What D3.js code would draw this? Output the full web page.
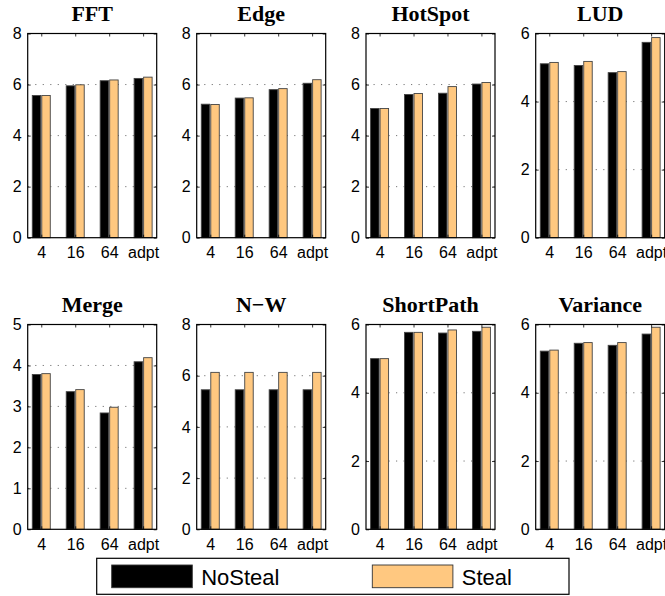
<!DOCTYPE html>
<html>
<head>
<meta charset="utf-8">
<script src="https://cdn.jsdelivr.net/npm/d3@7/dist/d3.min.js"></script>
<style>
  html, body { margin: 0; padding: 0; background: #fff; }
  svg { display: block; }
  .tick-label { font-family: "Liberation Sans", Arial, sans-serif; font-size: 16px; fill: #000; }
  .panel-title { font-family: "Liberation Serif", "Times New Roman", serif; font-size: 22px; font-weight: bold; fill: #000; }
  .legend-label { font-family: "Liberation Sans", Arial, sans-serif; font-size: 22px; fill: #000; }
</style>
</head>
<body>
<svg id="chart" width="665" height="596"></svg>
<script>
// Scheduling granularity groups shown on every panel
const categories = ["4", "16", "64", "adpt"];

// Benchmark panels, in reading order
const benchmarks = ["FFT", "Edge", "HotSpot", "LUD", "Merge", "N\u2212W", "ShortPath", "Variance"];

// Speedup without work stealing, one row per benchmark
const fftNoSteal       = [5.57, 5.95, 6.15, 6.24];
const edgeNoSteal      = [5.23, 5.47, 5.80, 6.05];
const hotspotNoSteal   = [5.06, 5.61, 5.66, 6.02];
const ludNoSteal       = [5.11, 5.06, 4.85, 5.74];
const mergeNoSteal     = [3.78, 3.36, 2.84, 4.09];
const nwNoSteal        = [5.45, 5.45, 5.45, 5.45];
const shortpathNoSteal = [5.00, 5.77, 5.75, 5.80];
const varianceNoSteal  = [5.22, 5.45, 5.39, 5.72];

// Speedup with work stealing
const fftSteal       = [5.57, 5.99, 6.18, 6.29];
const edgeSteal      = [5.22, 5.48, 5.84, 6.19];
const hotspotSteal   = [5.06, 5.65, 5.92, 6.08];
const ludSteal       = [5.15, 5.18, 4.88, 5.88];
const mergeSteal     = [3.80, 3.41, 2.98, 4.19];
const nwSteal        = [6.13, 6.13, 6.13, 6.13];
const shortpathSteal = [5.00, 5.77, 5.84, 5.92];
const varianceSteal  = [5.25, 5.47, 5.47, 5.92];

// Y-axis upper limits and tick steps per panel
const yMaxima   = [8, 8, 8, 6, 5, 8, 6, 6];
const yTickStep = [2, 2, 2, 2, 1, 2, 2, 2];

const seriesNames  = ["NoSteal", "Steal"];
const seriesColors = ["#000000", "#ffc880"];

const noStealSeries = [fftNoSteal, edgeNoSteal, hotspotNoSteal, ludNoSteal,
                       mergeNoSteal, nwNoSteal, shortpathNoSteal, varianceNoSteal];
const stealSeries   = [fftSteal, edgeSteal, hotspotSteal, ludSteal,
                       mergeSteal, nwSteal, shortpathSteal, varianceSteal];

// ---- layout ----
const svg = d3.select("#chart");
const colLeft = [27.7, 196.7, 366, 535.7];
const plotW = 129;
const rowTop = [33.5, 324.5];
const rowBottom = [237.7, 529.3];

const barW = 0.25;      // bar width in group units
const barOff = 0.14;    // half distance between the two bar centres
const tickLen = 3;

benchmarks.forEach((name, i) => {
  const col = i % 4, row = Math.floor(i / 4);
  const x0 = colLeft[col], x1 = x0 + plotW;
  const y0 = rowTop[row], y1 = rowBottom[row];

  const x = d3.scaleLinear().domain([0.6, 4.4]).range([x0, x1]);
  const y = d3.scaleLinear().domain([0, yMaxima[i]]).range([y1, y0]);
  const yTicks = d3.range(0, yMaxima[i] + 1e-9, yTickStep[i]);

  const g = svg.append("g");

  // dotted horizontal grid
  g.selectAll("line.grid")
    .data(yTicks.filter(t => t > 0 && t < yMaxima[i]))
    .join("line")
    .attr("x1", x0).attr("x2", x1)
    .attr("y1", d => y(d)).attr("y2", d => y(d))
    .attr("stroke", "#777")
    .attr("stroke-width", 1)
    .attr("stroke-dasharray", "1.2,6.3");

  // bars
  const rows = categories.map((c, k) => ({
    pos: k + 1,
    vals: [noStealSeries[i][k], stealSeries[i][k]]
  }));
  rows.forEach(r => {
    r.vals.forEach((v, s) => {
      const cx = r.pos + (s === 0 ? -barOff : barOff);
      g.append("rect")
        .attr("x", x(cx - barW / 2))
        .attr("width", x(cx + barW / 2) - x(cx - barW / 2))
        .attr("y", y(v))
        .attr("height", y(0) - y(v))
        .attr("fill", seriesColors[s])
        .attr("stroke", "#444")
        .attr("stroke-width", 0.9);
    });
  });

  // axes with inward ticks, mirrored on top/right
  const axLeft = d3.axisLeft(y).tickValues(yTicks).tickSize(-tickLen).tickPadding(6)
    .tickFormat(d3.format("d"));
  const axRight = d3.axisRight(y).tickValues(yTicks).tickSize(-tickLen).tickFormat("");
  const axBottom = d3.axisBottom(x).tickValues([1, 2, 3, 4]).tickSize(-tickLen).tickPadding(9)
    .tickFormat(d => categories[d - 1]);
  const axTop = d3.axisTop(x).tickValues([1, 2, 3, 4]).tickSize(-tickLen).tickFormat("");

  [[axLeft, `translate(${x0},0)`], [axRight, `translate(${x1},0)`],
   [axBottom, `translate(0,${y1})`], [axTop, `translate(0,${y0})`]].forEach(([ax, tr]) => {
    const a = g.append("g").attr("transform", tr).call(ax);
    a.select(".domain").remove();
    a.selectAll(".tick line").attr("stroke", "#000").attr("stroke-width", 0.8);
    a.selectAll(".tick text").attr("class", "tick-label").attr("font-size", null).attr("font-family", null);
  });

  // box frame
  g.append("rect")
    .attr("x", x0).attr("y", y0)
    .attr("width", x1 - x0).attr("height", y1 - y0)
    .attr("fill", "none").attr("stroke", "#000").attr("stroke-width", 1.2);

  // title
  g.append("text")
    .attr("class", "panel-title")
    .attr("x", (x0 + x1) / 2)
    .attr("y", y0 - 13)
    .attr("text-anchor", "middle")
    .text(name);
});

// ---- legend ----
const legend = svg.append("g");
legend.append("rect")
  .attr("x", 96.7).attr("y", 558.3).attr("width", 472.3).attr("height", 36)
  .attr("fill", "#fff").attr("stroke", "#000").attr("stroke-width", 1.2);
const legendX = [111.7, 372.3];
seriesNames.forEach((n, s) => {
  legend.append("rect")
    .attr("x", legendX[s]).attr("y", 565).attr("width", 80.6).attr("height", 22.7)
    .attr("fill", seriesColors[s]).attr("stroke", "#333").attr("stroke-width", 0.9);
  legend.append("text")
    .attr("class", "legend-label")
    .attr("x", legendX[s] + 89.5).attr("y", 585.3)
    .text(n);
});
</script>
</body>
</html>
